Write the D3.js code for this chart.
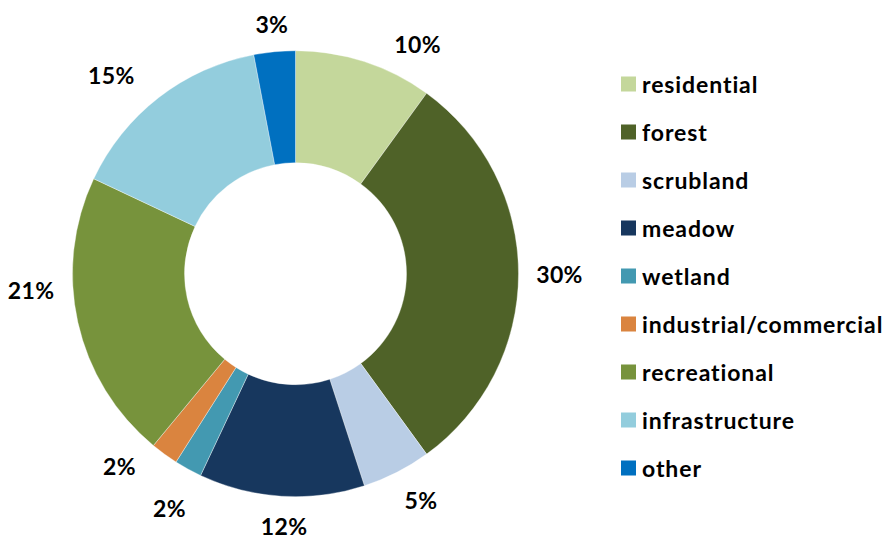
<!DOCTYPE html>
<html>
<head>
<meta charset="utf-8">
<script src="https://cdn.jsdelivr.net/npm/d3@7/dist/d3.min.js"></script>
<style>
  html, body { margin: 0; padding: 0; background: #fff; }
  svg { display: block; }
  text { font-family: Lato, "Open Sans", sans-serif; font-weight: 700; fill: #000;
         font-variant-ligatures: none; font-feature-settings: "liga" 0, "clig" 0; }
</style>
</head>
<body>
<svg id="chart" width="888" height="542"></svg>
<script>
// ---- data ----
const categories = ["residential", "forest", "scrubland", "meadow", "wetland",
  "industrial/commercial", "recreational", "infrastructure", "other"];
const values = [10, 30, 5, 12, 2, 2, 21, 15, 3];
const colors = ["#C4D79B", "#4F6228", "#B9CDE5", "#17375E", "#4399B1",
  "#DA843F", "#77933C", "#93CDDD", "#0070C0"];

// ---- layout ----
const W = 888, H = 542;
const cx = 295.5, cy = 273.7;
const outerR = 223, innerR = 111;
// label placement tweaks: [angle shift in degrees, radius]
const labelAdjust = [[10, 260], [0, 264], [-2, 259], [-1, 253], [-0.5, 266],
  [6.4, 261], [9, 265], [-5, 271], [0, 251]];

const svg = d3.select("#chart");
const g = svg.append("g").attr("transform", `translate(${cx},${cy})`);

const total = d3.sum(values);
const pie = d3.pie().sort(null).value(d => d)(values);
const arc = d3.arc().innerRadius(innerR).outerRadius(outerR);

g.selectAll("path.slice")
  .data(pie)
  .join("path")
  .attr("class", "slice")
  .attr("d", arc)
  .attr("fill", (d, i) => colors[i])
  .attr("stroke", "#ffffff")
  .attr("stroke-opacity", 0.6)
  .attr("stroke-width", 0.6);

const fmt = d3.format(".0%");
g.selectAll("text.lbl")
  .data(pie)
  .join("text")
  .attr("class", "lbl")
  .attr("text-anchor", "middle")
  .attr("dominant-baseline", "central")
  .style("font-size", "23px")
  .style("letter-spacing", "0.4px")
  .attr("transform", (d, i) => {
    const mid = (d.startAngle + d.endAngle) / 2 + labelAdjust[i][0] * Math.PI / 180;
    const r = labelAdjust[i][1];
    return `translate(${r * Math.sin(mid)},${-r * Math.cos(mid)})`;
  })
  .text(d => fmt(d.value / total));

// ---- legend ----
const legendY = d3.scalePoint().domain(categories).range([84, 468]);
const leg = svg.append("g");
const items = leg.selectAll("g.item")
  .data(categories)
  .join("g")
  .attr("class", "item")
  .attr("transform", d => `translate(621,${legendY(d)})`);
items.append("rect")
  .attr("x", 0).attr("y", -7.5)
  .attr("width", 15).attr("height", 15)
  .attr("fill", (d, i) => colors[i]);
items.append("text")
  .attr("x", 21)
  .attr("dominant-baseline", "central")
  .style("font-size", "23px")
  .style("letter-spacing", "0.9px")
  .text(d => d);
</script>
</body>
</html>
